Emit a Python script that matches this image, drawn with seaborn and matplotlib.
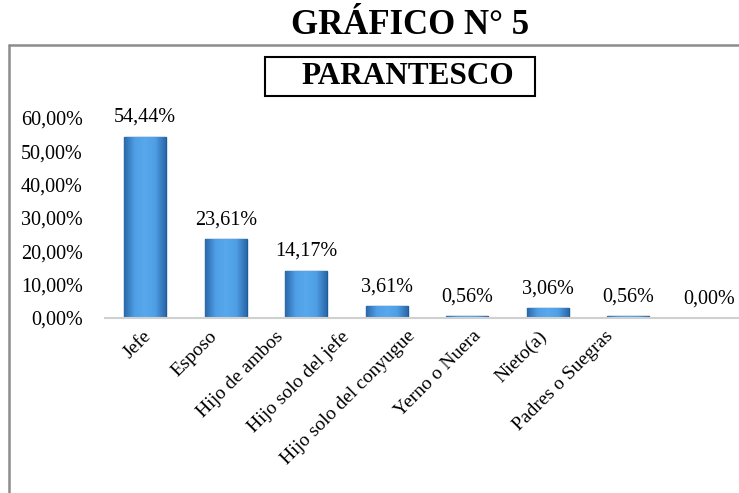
import matplotlib
matplotlib.use("Agg")
import matplotlib.pyplot as plt
import seaborn as sns
import pandas as pd
import numpy as np
from matplotlib.lines import Line2D
from matplotlib.patches import Rectangle
from matplotlib.transforms import ScaledTranslation
from matplotlib.colors import LinearSegmentedColormap

categorias = ["Jefe", "Esposo", "Hijo de ambos", "Hijo solo del jefe",
              "Hijo solo del conyugue", "Yerno o Nuera", "Nieto(a)", "Padres o Suegras"]
porcentajes = [54.44, 23.61, 14.17, 3.61, 0.56, 3.06, 0.56, 0.00]
ticks_y = [0, 10, 20, 30, 40, 50, 60]

df = pd.DataFrame({"Parentesco": categorias, "Porcentaje": porcentajes})

sns.set_style("white")
plt.rcParams['font.family'] = ['Liberation Serif', 'DejaVu Serif']
plt.rcParams['text.color'] = 'black'
plt.rcParams['xtick.color'] = 'black'
plt.rcParams['ytick.color'] = 'black'

W, H = 739, 493
fig = plt.figure(figsize=(W / 100, H / 100), dpi=100)

# marco gris (solo se ven borde izquierdo y superior)
fig.add_artist(Line2D([9 / W, 9 / W], [0, 1 - 45 / H], color="#8c8c8c", lw=1.8))
fig.add_artist(Line2D([9 / W, 1], [1 - 45 / H, 1 - 45 / H], color="#8c8c8c", lw=1.8))

fig.text(410 / W, 1 - 26 / H, "GRÁFICO N° 5", ha="center", va="center",
         fontsize=25, fontweight="bold")

# recuadro del subtitulo
fig.add_artist(Rectangle((265 / W, 1 - 96 / H), 270 / W, 39 / H, transform=fig.transFigure,
                         facecolor="white", edgecolor="black", lw=1.5))
fig.text(408 / W, 1 - 76 / H, "PARANTESCO", ha="center", va="center",
         fontsize=22.5, fontweight="bold")

ax = fig.add_axes([105 / W, 1 - 318 / H, 634 / W, 200 / H])
sns.barplot(data=df, x="Parentesco", y="Porcentaje", color="#3f8fd8",
            edgecolor="#1d5c9a", linewidth=1.0, width=0.52, ax=ax, saturation=1)

# degradado horizontal en las barras (oscuro - claro - oscuro)
cmap = LinearSegmentedColormap.from_list("barra", ["#2c68aa", "#4f9fe6", "#58a8ee", "#4f9fe6", "#2c68aa"])
grad = np.linspace(0, 1, 64).reshape(1, -1)
for p in ax.patches:
    if p.get_height() <= 0:
        continue
    x0, y0 = p.get_x(), p.get_y()
    img = ax.imshow(grad, cmap=cmap, aspect="auto", zorder=p.get_zorder() + 0.1,
                    extent=(x0, x0 + p.get_width(), y0, y0 + p.get_height()))
    img.set_clip_path(p)
ax.set_xlim(-0.5, 7.375)
ax.set_ylim(0, 60)

ax.set_yticks(ticks_y)
ax.set_yticklabels([f"{t:.2f}%".replace(".", ",") for t in ticks_y], fontsize=14.5)
ax.set_xlabel("")
ax.set_ylabel("")
ax.set_xticks(range(len(categorias)))
ax.set_xticklabels(categorias, rotation=45, ha="right", rotation_mode="anchor", fontsize=14)
ax.tick_params(axis="both", length=0)
ax.tick_params(axis="y", pad=16)
ax.tick_params(axis="x", pad=7)

# las etiquetas del eje x se corren a la izquierda progresivamente
for i, lbl in enumerate(ax.get_xticklabels()):
    dx = -(3 + 14.5 * i) / 100
    lbl.set_transform(lbl.get_transform() + ScaledTranslation(dx, 0, fig.dpi_scale_trans))

for s in ["top", "right", "left"]:
    ax.spines[s].set_visible(False)
ax.spines["bottom"].set_color("#d0d0d0")
ax.spines["bottom"].set_linewidth(1.5)

for i, v in enumerate(porcentajes):
    ax.annotate(f"{v:.2f}%".replace(".", ","), (i, v), xytext=(0, 7),
                textcoords="offset points", ha="center", va="bottom",
                fontsize=14.5, annotation_clip=False)

fig.savefig("out.png", dpi=100)
